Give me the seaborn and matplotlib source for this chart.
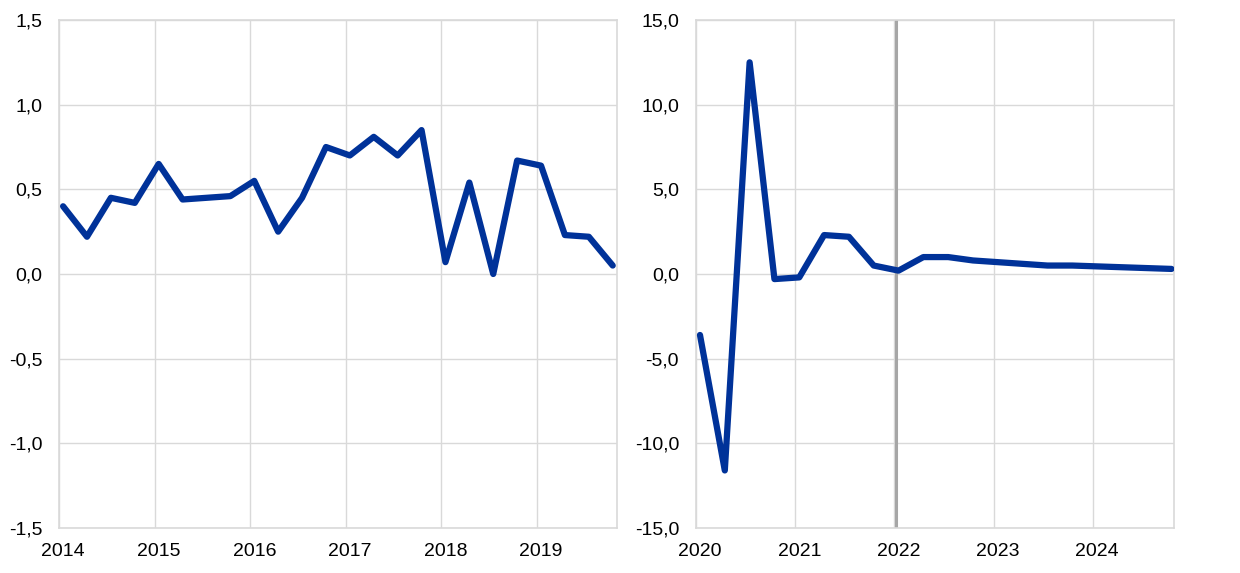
import numpy as np
import pandas as pd
import seaborn as sns
import matplotlib.pyplot as plt
from matplotlib.ticker import FuncFormatter

# quarterly values, left panel 2014Q1-2019Q4
pre_years = [2014, 2015, 2016, 2017, 2018, 2019]
pre_values = [0.40, 0.22, 0.45, 0.42, 0.65, 0.44, 0.45, 0.46,
              0.55, 0.25, 0.45, 0.75, 0.70, 0.81, 0.70, 0.85,
              0.07, 0.54, 0.00, 0.67, 0.64, 0.23, 0.22, 0.05]

# right panel 2020Q1-2024Q4
post_years = [2020, 2021, 2022, 2023, 2024]
post_values = [-3.6, -11.6, 12.5, -0.3, -0.2, 2.3, 2.2, 0.5,
               0.2, 1.0, 1.0, 0.8, 0.7, 0.6, 0.5, 0.5,
               0.45, 0.4, 0.35, 0.3]
projection_start = 2022

blue = '#003299'
grid_grey = '#d9d9d9'

sns.set_theme(style='white')
plt.rcParams['font.family'] = ['Liberation Sans', 'DejaVu Sans']

fig = plt.figure(figsize=(12.4, 5.73), dpi=100)
ax1 = fig.add_axes([0.0476, 0.0785, 0.450, 0.8866])
ax2 = fig.add_axes([0.5611, 0.0785, 0.3857, 0.8866])

comma = FuncFormatter(lambda v, p: f'{v:.1f}'.replace('.', ','))
shift = 0.17  # year gridlines sit slightly left of the Q1 point


def draw_panel(ax, years, values, ylim, ystep, right_pad):
    df = pd.DataFrame({'idx': np.arange(len(values)), 'value': values})
    sns.lineplot(data=df, x='idx', y='value', ax=ax, color=blue,
                 linewidth=4.5, solid_joinstyle='round',
                 solid_capstyle='round', zorder=3)
    ax.set_xlim(-shift, len(values) - 1 + right_pad)
    ax.set_ylim(*ylim)
    ax.set_yticks(np.arange(ylim[0], ylim[1] + ystep / 2, ystep))
    ax.yaxis.set_major_formatter(comma)

    pos = np.arange(0, len(values), 4)
    ax.set_xticks(pos - shift)
    ax.set_xticklabels([])
    ax.set_xticks(pos, minor=True)
    ax.set_xticklabels([str(y) for y in years], minor=True)

    ax.grid(True, which='major', color=grid_grey, linewidth=1)
    ax.set_axisbelow(True)
    for s in ax.spines.values():
        s.set_color(grid_grey)
        s.set_linewidth(1.2)
    ax.tick_params(axis='y', which='both', length=0, pad=12, labelsize=14, colors='black')
    ax.tick_params(axis='x', which='both', length=0, pad=11, labelsize=14, colors='black')
    ax.set_xlabel('')
    ax.set_ylabel('')


draw_panel(ax1, pre_years, pre_values, (-1.5, 1.5), 0.5, 0.18)
draw_panel(ax2, post_years, post_values, (-15, 15), 5, 0.1)

# vertical marker for projection start
vx = (projection_start - post_years[0]) * 4 - 0.1
ax2.axvline(vx, color='#a6a6a6', linewidth=2.2, zorder=2)

fig.savefig('out.png', dpi=100)
